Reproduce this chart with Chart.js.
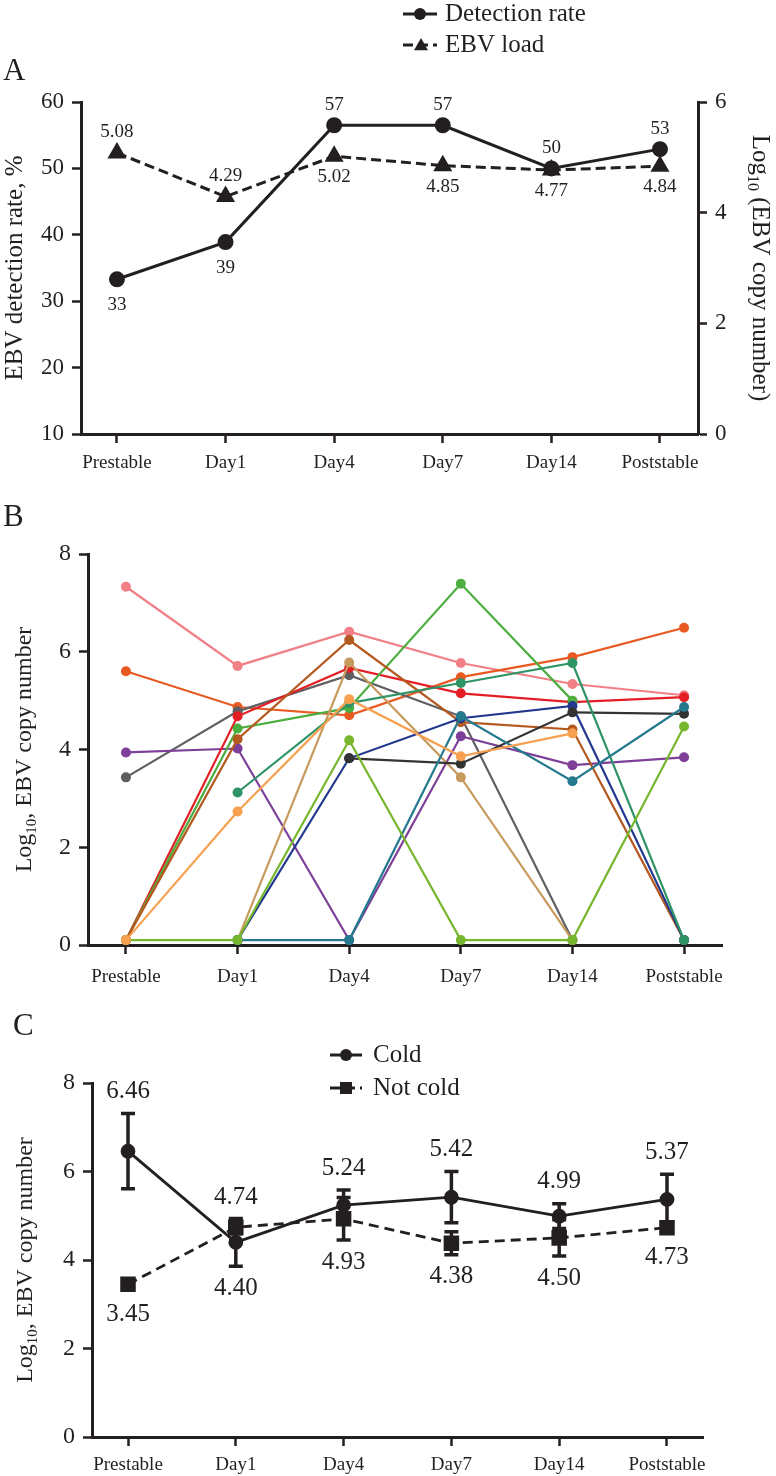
<!DOCTYPE html>
<html>
<head>
<meta charset="utf-8">
<script src="https://cdn.jsdelivr.net/npm/chart.js@4.4.1/dist/chart.umd.min.js"></script>
<style>
  body { margin: 0; background: #fff; }
  canvas { position: absolute; left: 0; }
</style>
</head>
<body>
<canvas id="chartA" width="776" height="480" style="top:0px"></canvas>
<canvas id="chartB" width="776" height="510" style="top:480px"></canvas>
<canvas id="chartC" width="776" height="486" style="top:990px"></canvas>
<script>
// Time points shared by all three panels
const timepoints = ['Prestable', 'Day1', 'Day4', 'Day7', 'Day14', 'Poststable'];

// Panel A: detection rate (%) and mean EBV load (log10)
const detectionRate = [33.3, 38.9, 56.5, 56.5, 50.0, 52.9];
const ebvLoad = [5.08, 4.29, 5.02, 4.85, 4.77, 4.84];
const detectionLabelSide = [1, 1, -1, -1, -1, -1]; // 1 = below, -1 = above
const loadLabelSide = [-1, -1, 1, 1, 1, 1];

// Panel B: individual patients (log10 copy number, null = no sample)
const patient01 = [7.33, 5.71, 6.41, 5.77, 5.34, 5.11];
const patient02 = [5.60, 4.87, 4.70, 5.48, 5.89, 6.49];
const patient03 = [3.43, 4.78, 5.52, 4.68, 0.1, null];
const patient04 = [3.94, 4.02, 0.1, 4.27, 3.68, 3.84];
const patient05 = [0.1, 4.68, 5.67, 5.15, 4.97, 5.07];
const patient06 = [0.1, 4.43, 4.85, 7.39, 5.00, null];
const patient07 = [0.1, 4.21, 6.24, 4.56, 4.41, 0.1];
const patient08 = [null, 0.1, 5.78, 3.43, 0.1, null];
const patient09 = [null, 0.1, 3.82, 4.64, 4.89, 0.1];
const patient10 = [null, null, 3.82, 3.71, 4.76, 4.73];
const patient11 = [null, 3.12, 4.95, 5.36, 5.77, 0.1];
const patient12 = [null, 0.1, 0.1, 4.68, 3.35, 4.87];
const patient13 = [0.1, 0.1, 4.19, 0.1, 0.1, 4.47];
const patient14 = [0.1, 2.73, 5.03, 3.86, 4.33, null];
const patients = [patient01, patient02, patient03, patient04, patient05, patient06, patient07,
  patient08, patient09, patient10, patient11, patient12, patient13, patient14];
const patientColors = ['#f07f86', '#e95a22', '#5f5f62', '#7d3f98', '#e31e24', '#4bae3f', '#b4591f',
  '#c79a5e', '#22388f', '#333333', '#2e9466', '#25798f', '#76b72e', '#f7a04f'];

// Panel C: cold vs not cold (mean and error)
const coldMean = [6.46, 4.40, 5.24, 5.42, 4.99, 5.37];
const coldErr = [0.85, 0.54, 0.34, 0.58, 0.28, 0.57];
const notColdMean = [3.45, 4.74, 4.93, 4.38, 4.50, 4.73];
const notColdErr = [0, 0.15, 0.48, 0.26, 0.41, 0.05];
const coldLabelSide = [-1, 1, -1, -1, -1, -1];
const notColdLabelSide = [1, -1, 1, 1, 1, 1];

const INK = '#231f20';
const SERIF = '"Liberation Serif", "DejaVu Serif", serif';
Chart.defaults.font.family = SERIF;
Chart.defaults.color = INK;
Chart.defaults.animation = false;

const toXY = arr => arr.map((v, i) => ({ x: i, y: v }));

function xAxis(min, max, height, pad) {
  return {
    type: 'linear', position: 'bottom', min, max,
    afterBuildTicks: s => { s.ticks = timepoints.map((_, i) => ({ value: i })); },
    afterFit: s => { s.height = height; },
    ticks: { callback: v => timepoints[v], font: { size: 19 }, color: INK, padding: pad, maxRotation: 0, autoSkip: false },
    grid: { drawOnChartArea: false, tickLength: 9, tickWidth: 2.5, tickColor: INK },
    border: { display: true, color: INK, width: 3 }
  };
}

function yAxis(min, max, step, width, position, size) {
  return {
    type: 'linear', position, min, max,
    afterFit: s => { s.width = width; },
    ticks: { stepSize: step, font: { size }, color: INK, padding: 8 },
    grid: { drawOnChartArea: false, tickLength: 9, tickWidth: 2.5, tickColor: INK },
    border: { display: true, color: INK, width: 3 }
  };
}

// text with optional subscript parts, centred on (x, y) and rotated
function drawRich(ctx, parts, x, y, angle, size) {
  ctx.save();
  ctx.translate(x, y);
  ctx.rotate(angle);
  ctx.fillStyle = INK;
  ctx.textBaseline = 'alphabetic';
  const fontOf = p => `${p.sub ? Math.round(size * 0.64) : size}px ${SERIF}`;
  const widths = parts.map(p => { ctx.font = fontOf(p); return ctx.measureText(p.text).width; });
  let cx = -widths.reduce((a, b) => a + b, 0) / 2;
  parts.forEach((p, i) => {
    ctx.font = fontOf(p);
    ctx.fillText(p.text, cx, size * 0.33 + (p.sub ? size * 0.2 : 0));
    cx += widths[i];
  });
  ctx.restore();
}

function drawText(ctx, text, x, y, size, align) {
  ctx.save();
  ctx.font = `${size}px ${SERIF}`;
  ctx.fillStyle = INK;
  ctx.textAlign = align || 'center';
  ctx.textBaseline = 'middle';
  ctx.fillText(text, x, y);
  ctx.restore();
}

function legendLine(ctx, x0, x1, y, dashed) {
  ctx.save();
  ctx.strokeStyle = INK;
  ctx.lineWidth = 3;
  if (dashed) ctx.setLineDash([10, 5]);
  ctx.beginPath(); ctx.moveTo(x0, y); ctx.lineTo(x1, y); ctx.stroke();
  ctx.restore();
}

function marker(ctx, shape, x, y, r) {
  ctx.save();
  ctx.fillStyle = INK;
  ctx.beginPath();
  if (shape === 'circle') ctx.arc(x, y, r, 0, Math.PI * 2);
  else if (shape === 'rect') ctx.rect(x - r, y - r, 2 * r, 2 * r);
  else { ctx.moveTo(x, y - r); ctx.lineTo(x + r, y + r * 0.75); ctx.lineTo(x - r, y + r * 0.75); ctx.closePath(); }
  ctx.fill();
  ctx.restore();
}

// ---------- Panel A ----------
new Chart(document.getElementById('chartA'), {
  type: 'line',
  data: {
    datasets: [{
      label: 'Detection rate',
      data: toXY(detectionRate),
      yAxisID: 'y',
      borderColor: INK, backgroundColor: INK, borderWidth: 3,
      pointRadius: 6.5, pointStyle: 'circle', tension: 0, clip: false
    }, {
      label: 'EBV load',
      data: toXY(ebvLoad),
      yAxisID: 'y2',
      order: -1,
      borderColor: INK, backgroundColor: INK, borderWidth: 3, borderDash: [10, 5],
      pointRadius: 8, pointStyle: 'triangle', tension: 0, clip: false
    }]
  },
  options: {
    responsive: false, devicePixelRatio: 1,
    layout: { padding: { top: 102, left: 0, right: 0, bottom: 0 } },
    plugins: { legend: { display: false }, tooltip: { enabled: false } },
    scales: {
      x: xAxis(-0.331, 5.35, 46, 9),
      y: yAxis(10, 60, 10, 81, 'left', 23),
      y2: yAxis(0, 6, 2, 78, 'right', 23)
    }
  },
  plugins: [{
    id: 'panelA',
    afterDatasetsDraw(chart) {
      const ctx = chart.ctx;
      const xs = chart.scales.x, ys = chart.scales.y, y2 = chart.scales.y2;
      detectionRate.forEach((v, i) => {
        const off = detectionLabelSide[i] > 0 ? 26 : -20;
        drawText(ctx, String(Math.round(v)), xs.getPixelForValue(i), ys.getPixelForValue(v) + off, 19);
      });
      ebvLoad.forEach((v, i) => {
        drawText(ctx, v.toFixed(2), xs.getPixelForValue(i), y2.getPixelForValue(v) + loadLabelSide[i] * 21, 19);
      });
    },
    afterDraw(chart) {
      const ctx = chart.ctx;
      const a = chart.chartArea;
      const mid = (a.top + a.bottom) / 2;
      drawText(ctx, 'A', 3, 72, 31, 'left');
      drawRich(ctx, [{ text: 'EBV detection rate, %' }], 14, mid, -Math.PI / 2, 25);
      drawRich(ctx, [{ text: 'Log' }, { text: '10', sub: true }, { text: ' (EBV copy number)' }], 761, mid, Math.PI / 2, 25);
      legendLine(ctx, 403, 437, 14, false);
      marker(ctx, 'circle', 420, 14, 6);
      drawText(ctx, 'Detection rate', 445, 14, 25, 'left');
      legendLine(ctx, 403, 437, 45, true);
      marker(ctx, 'triangle', 421, 45, 7);
      drawText(ctx, 'EBV load', 445, 45, 25, 'left');
    }
  }]
});

// ---------- Panel B ----------
new Chart(document.getElementById('chartB'), {
  type: 'line',
  data: {
    datasets: patients.map((vals, i) => ({
      label: 'Patient ' + (i + 1),
      data: toXY(vals),
      order: patients.length - i,
      borderColor: patientColors[i], backgroundColor: patientColors[i],
      borderWidth: 2.2, pointRadius: 5, pointBorderWidth: 0, tension: 0, clip: false
    }))
  },
  options: {
    responsive: false, devicePixelRatio: 1,
    layout: { padding: { top: 74, left: 0, right: 54, bottom: 0 } },
    plugins: { legend: { display: false }, tooltip: { enabled: false } },
    scales: {
      x: xAxis(-0.34, 5.34, 45, 12),
      y: yAxis(0, 8, 2, 88, 'left', 24)
    }
  },
  plugins: [{
    id: 'panelB',
    afterDraw(chart) {
      const ctx = chart.ctx;
      const a = chart.chartArea;
      drawText(ctx, 'B', 3, 38, 31, 'left');
      drawRich(ctx, [{ text: 'Log' }, { text: '10', sub: true }, { text: ', EBV copy number' }], 23, (a.top + a.bottom) / 2, -Math.PI / 2, 24);
    }
  }]
});

// ---------- Panel C ----------
const groupsC = [
  { mean: coldMean, err: coldErr, side: coldLabelSide },
  { mean: notColdMean, err: notColdErr, side: notColdLabelSide }
];

new Chart(document.getElementById('chartC'), {
  type: 'line',
  data: {
    datasets: [{
      label: 'Cold',
      data: toXY(coldMean),
      borderColor: INK, backgroundColor: INK, borderWidth: 2.8,
      pointRadius: 6, pointStyle: 'circle', tension: 0, clip: false
    }, {
      label: 'Not cold',
      data: toXY(notColdMean),
      order: -1,
      borderColor: INK, backgroundColor: INK, borderWidth: 2.8, borderDash: [10, 6],
      pointRadius: 9, pointStyle: 'rect', tension: 0, clip: false
    }]
  },
  options: {
    responsive: false, devicePixelRatio: 1,
    layout: { padding: { top: 93, left: 0, right: 73, bottom: 0 } },
    plugins: { legend: { display: false }, tooltip: { enabled: false } },
    scales: {
      x: xAxis(-0.334, 5.334, 39, 8),
      y: yAxis(0, 8, 2, 92, 'left', 24)
    }
  },
  plugins: [{
    id: 'panelC',
    beforeDatasetsDraw(chart) {
      const ctx = chart.ctx;
      const xs = chart.scales.x, ys = chart.scales.y;
      ctx.save();
      ctx.strokeStyle = INK;
      ctx.lineWidth = 3.5;
      groupsC.forEach(g => g.mean.forEach((m, i) => {
        if (!g.err[i]) return;
        const x = xs.getPixelForValue(i);
        const top = ys.getPixelForValue(m + g.err[i]);
        const bot = ys.getPixelForValue(m - g.err[i]);
        ctx.beginPath();
        ctx.moveTo(x, top); ctx.lineTo(x, bot);
        ctx.moveTo(x - 7, top); ctx.lineTo(x + 7, top);
        ctx.moveTo(x - 7, bot); ctx.lineTo(x + 7, bot);
        ctx.stroke();
      }));
      ctx.restore();
    },
    afterDatasetsDraw(chart) {
      const ctx = chart.ctx;
      const xs = chart.scales.x, ys = chart.scales.y;
      groupsC.forEach(g => g.mean.forEach((m, i) => {
        const dir = g.side[i];
        const py = ys.getPixelForValue(m);
        let end = ys.getPixelForValue(m - dir * g.err[i]);
        end = dir > 0 ? Math.max(end, py + 8) : Math.min(end, py - 8);
        drawText(ctx, m.toFixed(2), xs.getPixelForValue(i), end + dir * 22, 25);
      }));
    },
    afterDraw(chart) {
      const ctx = chart.ctx;
      const a = chart.chartArea;
      drawText(ctx, 'C', 13, 37, 31, 'left');
      drawRich(ctx, [{ text: 'Log' }, { text: '10', sub: true }, { text: ', EBV copy number' }], 24, (a.top + a.bottom) / 2, -Math.PI / 2, 24);
      legendLine(ctx, 330, 362, 65, false);
      marker(ctx, 'circle', 346, 65, 6);
      drawText(ctx, 'Cold', 373, 65, 25, 'left');
      legendLine(ctx, 330, 362, 98, true);
      marker(ctx, 'rect', 346, 98, 6);
      drawText(ctx, 'Not cold', 373, 98, 25, 'left');
    }
  }]
});
</script>
</body>
</html>
